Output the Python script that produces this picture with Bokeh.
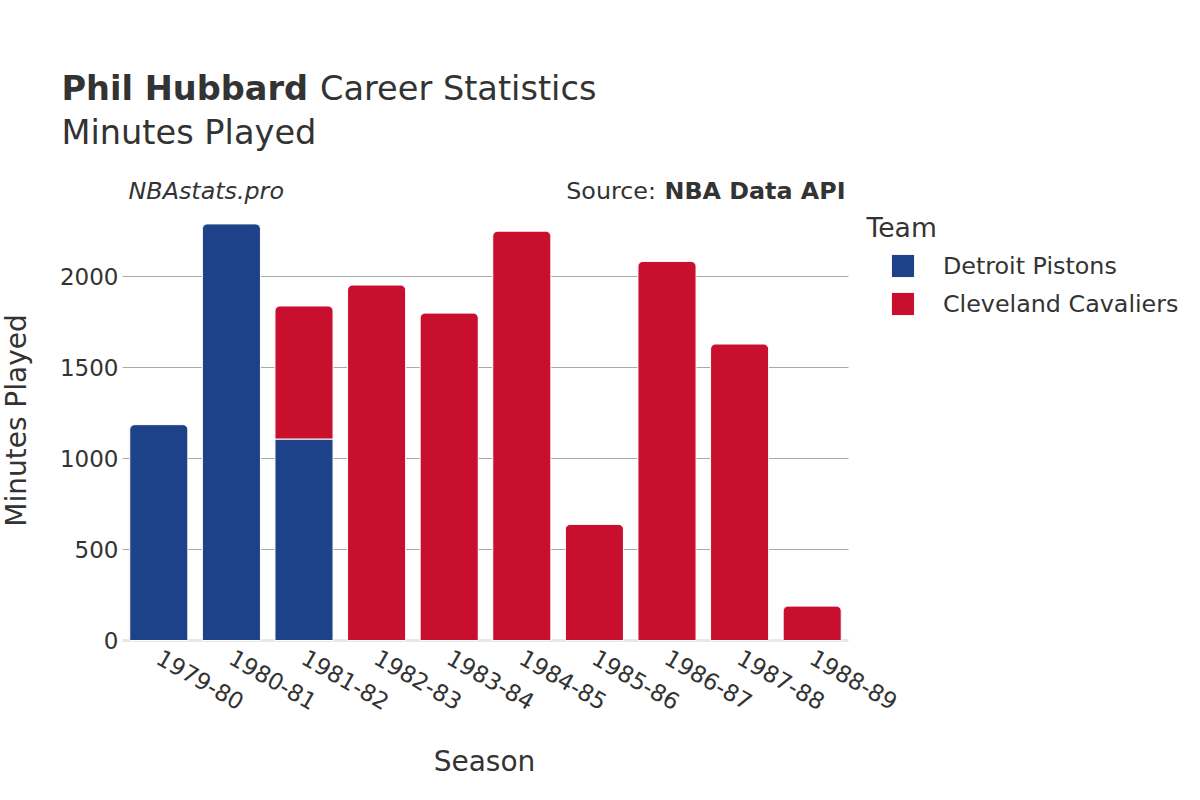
import math
from bokeh.plotting import figure
from bokeh.models import (Range1d, Label, Legend, LegendItem, FixedTicker,
                          LinearAxis, Grid)
from bokeh.embed import file_html
from bokeh.resources import INLINE

seasons = ["1979-80", "1980-81", "1981-82", "1982-83", "1983-84",
           "1984-85", "1985-86", "1986-87", "1987-88", "1988-89"]
det_seasons = ["1979-80", "1980-81", "1981-82"]
det_minutes = [1186, 2289, 1107]
cle_seasons = ["1981-82", "1982-83", "1983-84", "1984-85", "1985-86",
               "1986-87", "1987-88", "1988-89"]
cle_minutes = [731, 1953, 1799, 2249, 638, 2083, 1629, 189]
y_ticks = [0, 500, 1000, 1500, 2000]

FONT = "DejaVu Sans"
TXT = "#333333"
BLUE = "#1d428a"
RED = "#c8102e"

W, H = 1200, 800
plot_left, plot_right = 122, 848      # pixel extent of the bar area
plot_zero = 640                       # pixel row of value 0
px_per_unit = 0.182                   # vertical scale
cat_px = (plot_right - plot_left) / len(seasons)

x_start = -0.5 - plot_left / cat_px
y_start = -(H - plot_zero) / px_per_unit
p = figure(width=W, height=H,
           x_range=Range1d(x_start, x_start + W / cat_px),
           y_range=Range1d(y_start, y_start + H / px_per_unit),
           output_backend="svg", toolbar_location=None,
           x_axis_location=None, y_axis_location=None,
           min_border=0, min_border_left=0, min_border_right=0,
           min_border_top=0, min_border_bottom=0)
p.outline_line_color = None
# drop the default grids; only the value grid over the bar area is wanted
p.center = [r for r in p.center if not isinstance(r, Grid)]

grid = Grid(dimension=1, ticker=FixedTicker(ticks=y_ticks[1:]),
            cross_bounds=(-0.5, len(seasons) - 0.5),
            grid_line_color="#a8a8a8", grid_line_width=1)
p.add_layout(grid, "center")

idx = {s: i for i, s in enumerate(seasons)}
det_lookup = dict(zip(det_seasons, det_minutes))

# zero line
p.segment(x0=[-0.5], x1=[len(seasons) - 0.5], y0=[0], y1=[0],
          line_color="#e8e8e8", line_width=3, level="underlay")

det_top_x = [idx[s] for s in det_seasons if s not in cle_seasons]
det_top_v = [m for s, m in zip(det_seasons, det_minutes) if s not in cle_seasons]
det_und_x = [idx[s] for s in det_seasons if s in cle_seasons]
det_und_v = [m for s, m in zip(det_seasons, det_minutes) if s in cle_seasons]
cle_x = [idx[s] for s in cle_seasons]
cle_base = [det_lookup.get(s, 0) for s in cle_seasons]
cle_top = [b + m for b, m in zip(cle_base, cle_minutes)]

r_det = p.vbar(x=det_top_x, top=det_top_v, bottom=0, width=0.8,
               fill_color=BLUE, line_color="white", line_width=1,
               border_radius=(5, 5, 0, 0))
p.vbar(x=det_und_x, top=det_und_v, bottom=0, width=0.8,
       fill_color=BLUE, line_color="white", line_width=1)
r_cle = p.vbar(x=cle_x, top=cle_top, bottom=cle_base, width=0.8,
               fill_color=RED, line_color="white", line_width=1,
               border_radius=(5, 5, 0, 0))

yaxis = LinearAxis(fixed_location=-0.5, ticker=FixedTicker(ticks=y_ticks))
xaxis = LinearAxis(fixed_location=0, ticker=FixedTicker(ticks=list(range(len(seasons)))))
xaxis.major_label_overrides = {i: s for i, s in enumerate(seasons)}
xaxis.major_label_orientation = -math.pi / 6
xaxis.major_label_standoff = 15
yaxis.major_label_standoff = 4
for ax in (xaxis, yaxis):
    ax.axis_line_color = None
    ax.major_tick_line_color = None
    ax.minor_tick_line_color = None
    ax.major_tick_out = 0
    ax.major_tick_in = 0
    ax.major_label_text_font = FONT
    ax.major_label_text_font_size = "23px"
    ax.major_label_text_color = TXT
p.add_layout(yaxis, "left")
p.add_layout(xaxis, "below")

legend = Legend(items=[LegendItem(label="Detroit Pistons", renderers=[r_det]),
                       LegendItem(label="Cleveland Cavaliers", renderers=[r_cle])],
                location=(888, 482), orientation="vertical",
                glyph_width=29, glyph_height=29, label_standoff=26, spacing=9,
                padding=0, margin=0, border_line_color=None, background_fill_alpha=0,
                label_text_font=FONT, label_text_font_size="23.8px",
                label_text_color=TXT)
p.add_layout(legend, "center")


def lab(x, baseline, text, size, style="normal", align="left", angle=0.0):
    # place by baseline: the middle of the em box sits 0.346 em above it
    off = 0.346 * size
    if angle:
        x, y = x - off, baseline
    else:
        y = baseline - off
    p.add_layout(Label(x=x, y=y, x_units="canvas", y_units="canvas", text=text,
                       text_font=FONT, text_font_size=f"{size}px",
                       text_font_style=style, text_color=TXT, text_align=align,
                       text_baseline="middle", angle=angle))


lab(61, 100, "Phil Hubbard", 33.6, "bold")
lab(319.5, 100, "Career Statistics", 33.6)
lab(61, 144, "Minutes Played", 33.6)
lab(128, 199, "NBAstats.pro", 23.8, "italic")
lab(655.5, 199, "Source:", 23.8, align="right")
lab(845, 199, "NBA Data API", 23.8, "bold", align="right")
lab(866, 236, "Team", 26.6)
lab(484, 771, "Season", 28, align="center")
lab(25.5, 420, "Minutes Played", 28, align="center", angle=math.pi / 2)

open("out.html", "w").write(file_html(p, INLINE))
